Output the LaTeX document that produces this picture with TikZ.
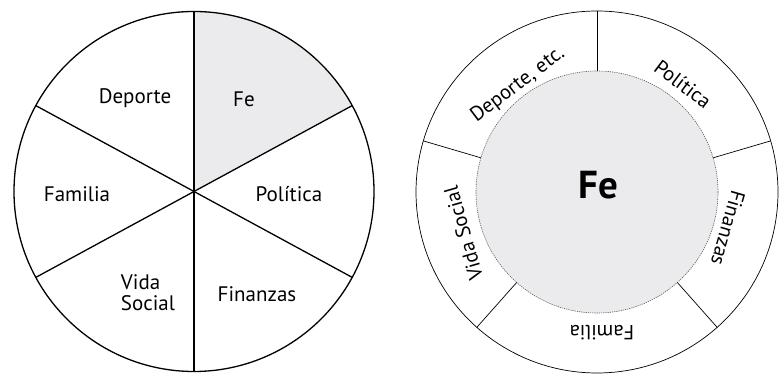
\documentclass[tikz,border=0pt]{standalone}
\usepackage{fontspec}
\setmainfont{PT Sans}
\usetikzlibrary{calc}
\definecolor{fegray}{HTML}{EBEBED}
\tikzset{
  piename/.style={font=\fontsize{21}{23}\selectfont},
  ringname/.style={font=\fontsize{20.5}{23}\selectfont},
  pieline/.style={line width=1.3pt},
  ringline/.style={line width=0.7pt}
}
\begin{document}
\begin{tikzpicture}[x=1pt,y=1pt]
        \useasboundingbox (0,0) rectangle (780,374);
        \coordinate (lc) at (194,182.5);
        \coordinate (rc) at (597,182);
        \fill[fegray] (lc) -- ++(90:180) arc (90:28.5:180) -- cycle;
        \draw[pieline] (lc) circle (180);
        \foreach \a in {90,28.5,151.5}
          \draw[pieline] (lc) +(\a:180) -- +(\a:-180);
        \node[piename] (deporte) at (135,276) {Deporte};
        \node[piename] (fe) at (244,275) {Fe};
        \node[piename] (politica) at (289,180) {Política};
        \node[piename] (familia) at (77,180) {Familia};
        \node[piename, align=left] (vida) at (148,81) {Vida\\[-2pt]Social};
        \node[piename] (finanzas) at (257,80) {Finanzas};
        \fill[fegray] (rc) circle (121);
        \draw[gray!70!black, dash pattern=on 1.2pt off 1pt, line width=0.6pt] (rc) circle (121);
        \draw[ringline] (rc) circle (181);
        \foreach \a in {90,16.4,-48.4,-131.6,163.6}
          \draw[ringline] (rc) +(\a:121) -- +(\a:181);
        \node[font=\bfseries\fontsize{39}{42}\selectfont] (fecentro) at (598,189) {Fe};
        \node[ringname, rotate=37] (deporteetc) at ($(rc)+(126.5:133)$) {Deporte, etc.};
        \node[ringname, rotate=-37] (politicar) at ($(rc)+(51.5:138)$) {Política};
        \node[ringname, rotate=-106] (finanzasr) at ($(rc)+(-15.5:136)$) {Finanzas};
        \node[ringname, rotate=180] (familiar) at ($(rc)+(-88:141)$) {Familia};
        \node[ringname, rotate=106] (vidar) at ($(rc)+(197.2:140)$) {Vida Social};
      \end{tikzpicture}
\end{document}
